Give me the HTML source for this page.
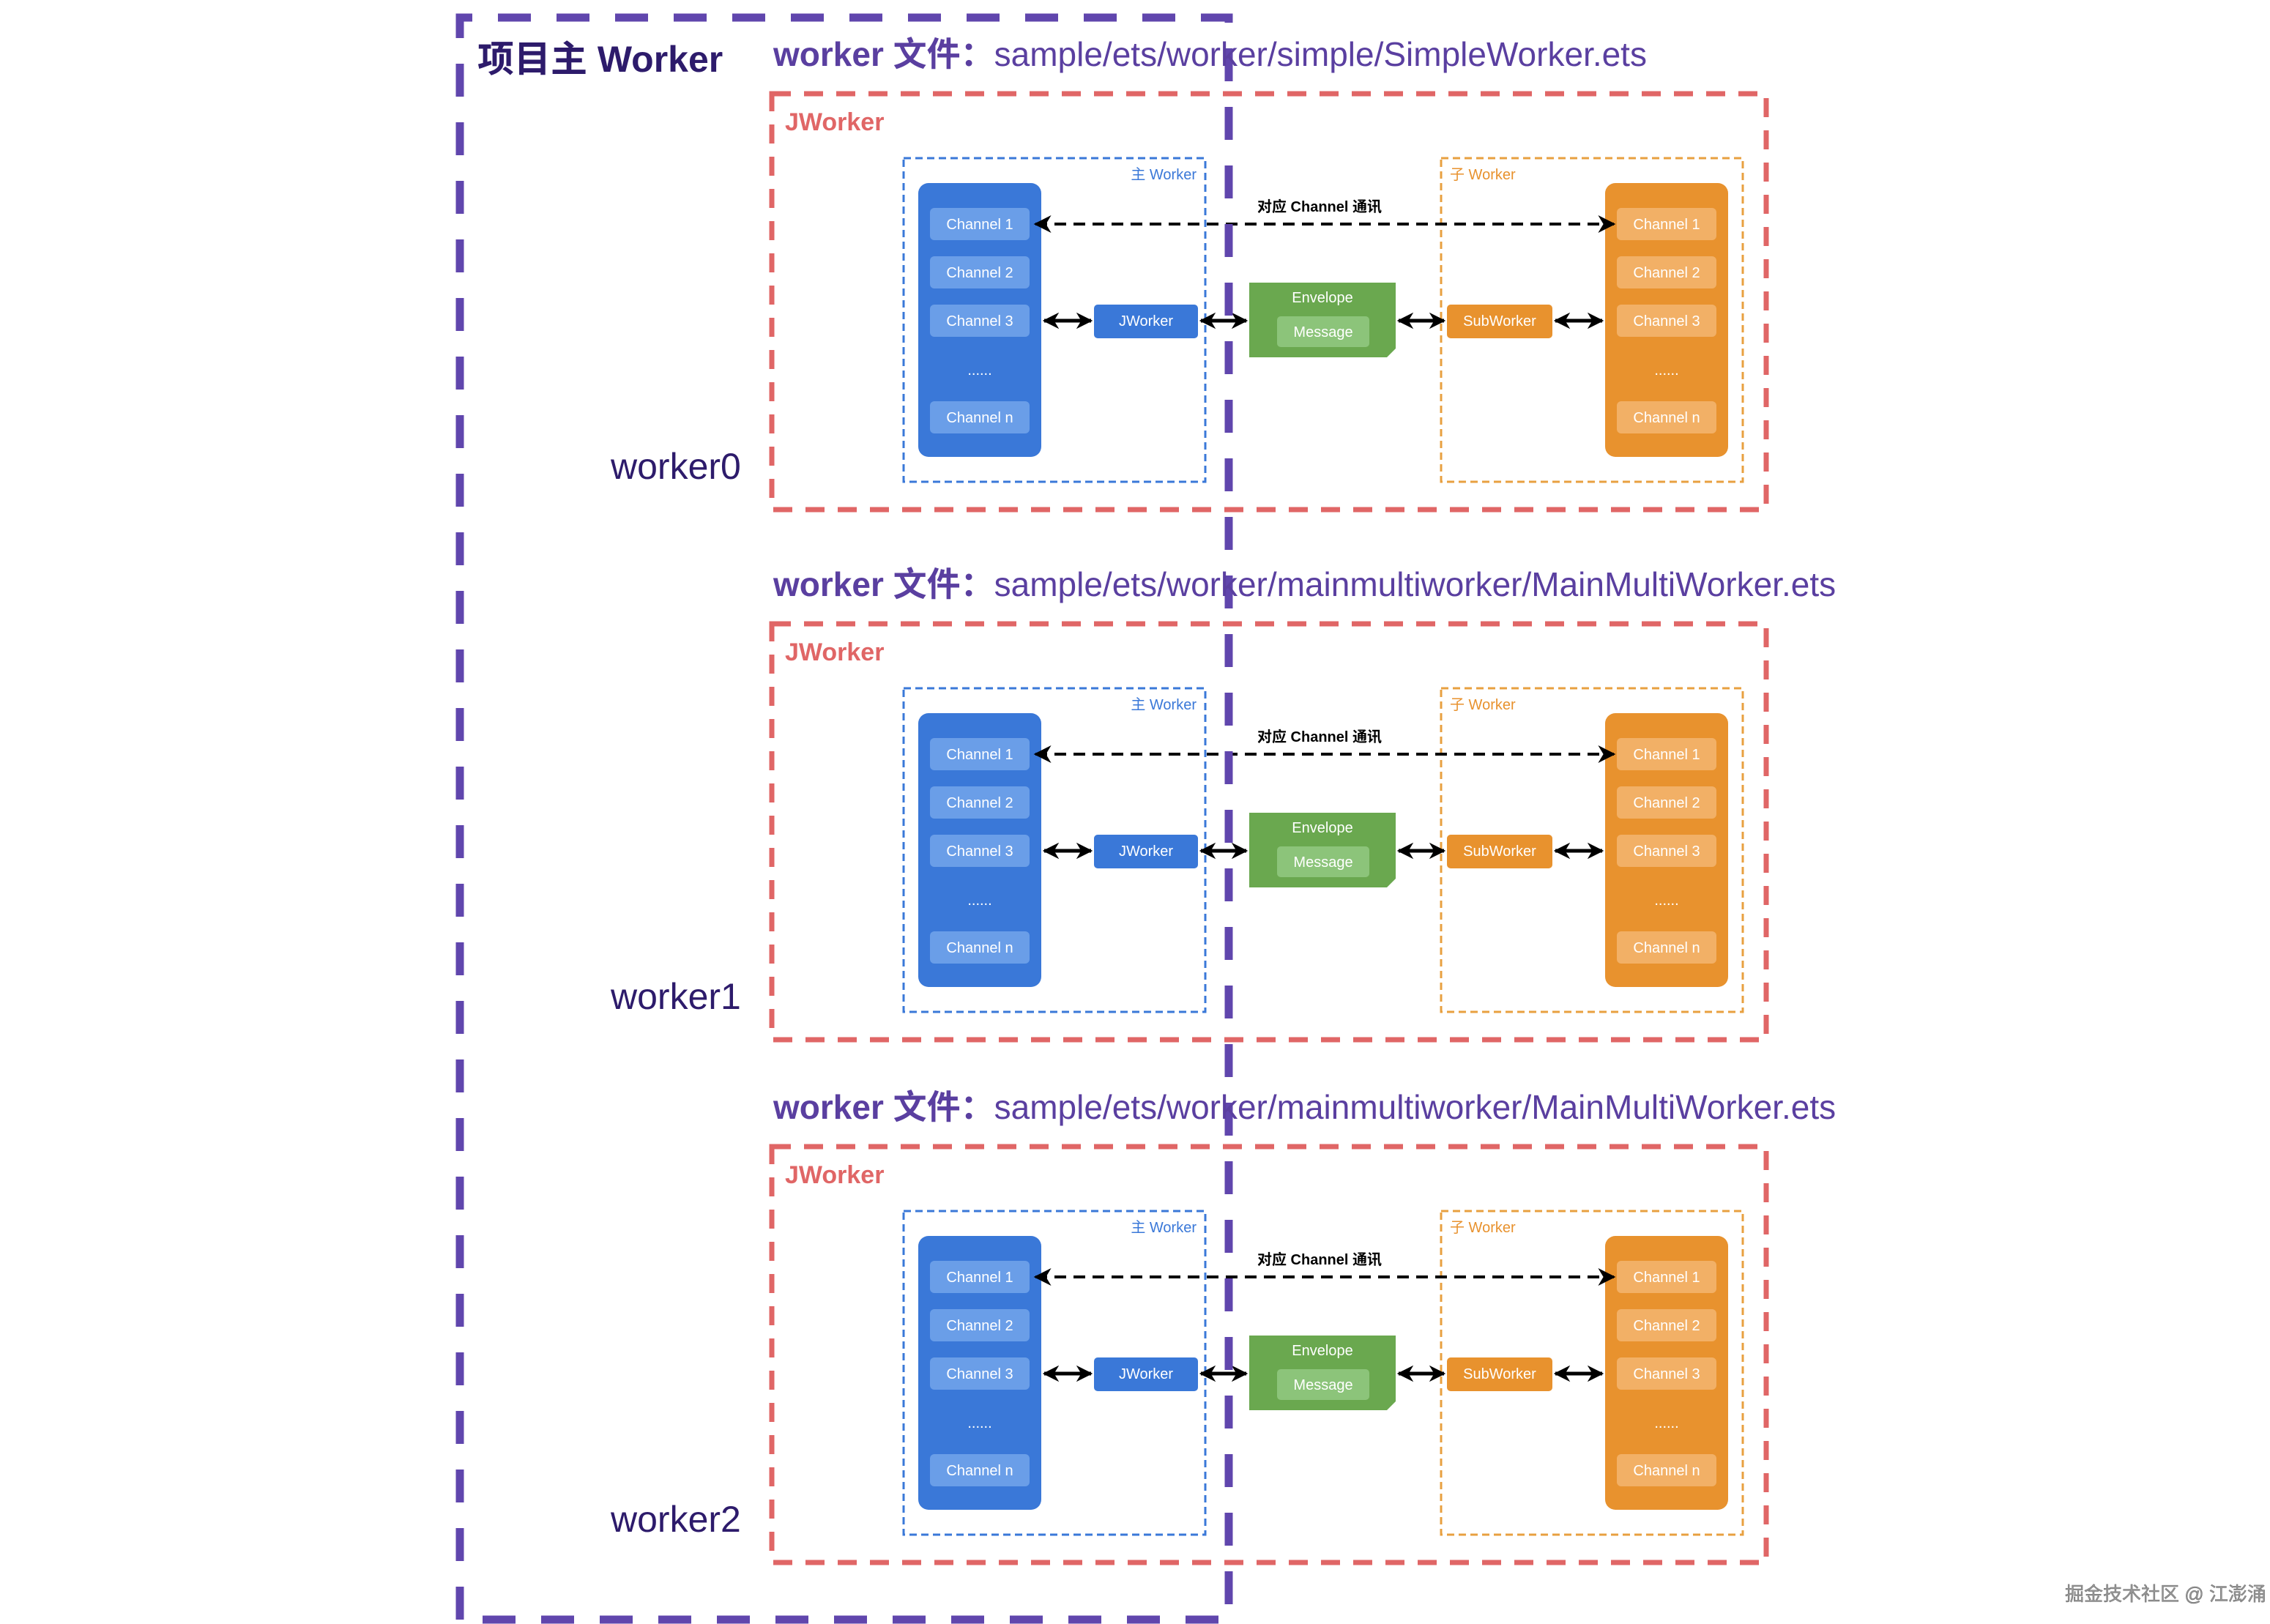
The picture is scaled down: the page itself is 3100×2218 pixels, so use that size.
<!DOCTYPE html>
<html><head><meta charset="utf-8"><style>
html,body{margin:0;padding:0;background:#fff;}
svg{display:block;}
text{font-family:"Liberation Sans","Noto Sans CJK SC",sans-serif;}
</style></head><body>
<svg width="3100" height="2218" viewBox="0 0 3100 2218" xmlns="http://www.w3.org/2000/svg">
<defs>
<marker id="ah" viewBox="0 0 10 10" refX="9" refY="5" markerWidth="6" markerHeight="6" orient="auto-start-reverse"><path d="M0,0 L10,5 L0,10 L3,5 z" fill="#000"/></marker>
<marker id="ah2" viewBox="0 0 10 10" refX="9" refY="5" markerWidth="4.5" markerHeight="4.5" orient="auto-start-reverse"><path d="M0,0 L10,5 L0,10 L3,5 z" fill="#000"/></marker>
<g id="sec">
  <rect x="1054" y="128" width="1358" height="568" fill="none" stroke="#e06666" stroke-width="7" stroke-dasharray="26 18"/>
  <rect x="1234" y="216" width="412" height="442" fill="none" stroke="#3a78d8" stroke-width="3" stroke-dasharray="10 6"/>
  <rect x="1968" y="216" width="412" height="442" fill="none" stroke="#e8a040" stroke-width="3" stroke-dasharray="10 6"/>
  <rect x="1254" y="250" width="168" height="374" rx="14" fill="#3a78d8"/>
  <rect x="1270" y="284" width="136" height="44" rx="6" fill="#6a9ee8"/>
  <rect x="1270" y="350" width="136" height="44" rx="6" fill="#6a9ee8"/>
  <rect x="1270" y="416" width="136" height="44" rx="6" fill="#6a9ee8"/>
  <rect x="1270" y="548" width="136" height="44" rx="6" fill="#6a9ee8"/>
  <rect x="2192" y="250" width="168" height="374" rx="14" fill="#e8922e"/>
  <rect x="2208" y="284" width="136" height="44" rx="6" fill="#f2b066"/>
  <rect x="2208" y="350" width="136" height="44" rx="6" fill="#f2b066"/>
  <rect x="2208" y="416" width="136" height="44" rx="6" fill="#f2b066"/>
  <rect x="2208" y="548" width="136" height="44" rx="6" fill="#f2b066"/>
  <rect x="1494" y="416" width="142" height="46" rx="5" fill="#3a78d8"/>
  <rect x="1976" y="416" width="144" height="46" rx="5" fill="#e8922e"/>
  <rect x="1706" y="386" width="200" height="102" fill="#6aa84f"/>
  <path d="M1894,488 L1906,476 L1906,488 z" fill="#fff"/>
  <rect x="1744" y="432" width="126" height="42" rx="5" fill="#8cc47a"/>
  <line x1="1414" y1="306" x2="2204" y2="306" stroke="#000" stroke-width="4" stroke-dasharray="16 10" marker-start="url(#ah)" marker-end="url(#ah)"/>
  <line x1="1426" y1="438" x2="1490" y2="438" stroke="#000" stroke-width="5" marker-start="url(#ah2)" marker-end="url(#ah2)"/>
  <line x1="1640" y1="438" x2="1702" y2="438" stroke="#000" stroke-width="5" marker-start="url(#ah2)" marker-end="url(#ah2)"/>
  <line x1="1910" y1="438" x2="1972" y2="438" stroke="#000" stroke-width="5" marker-start="url(#ah2)" marker-end="url(#ah2)"/>
  <line x1="2124" y1="438" x2="2188" y2="438" stroke="#000" stroke-width="5" marker-start="url(#ah2)" marker-end="url(#ah2)"/>
</g>
</defs>
<use href="#sec"/>
<use href="#sec" transform="translate(0,724)"/>
<use href="#sec" transform="translate(0,1438)"/>

<path d="M628,2212 L628,24 L1678,24 L1678,2212 Z" fill="none" stroke="#6046ad" stroke-width="11" stroke-dasharray="45 35"/>

<text x="652" y="98" font-size="50" font-weight="bold" fill="#2d1b6b">项目主 Worker</text>

<text x="1056" y="90" font-size="46" fill="#5a3fa0"><tspan font-weight="bold">worker  文件：</tspan>sample/ets/worker/simple/SimpleWorker.ets</text>
<text x="1056" y="814" font-size="46" fill="#5a3fa0"><tspan font-weight="bold">worker  文件：</tspan>sample/ets/worker/mainmultiworker/MainMultiWorker.ets</text>
<text x="1056" y="1528" font-size="46" fill="#5a3fa0"><tspan font-weight="bold">worker  文件：</tspan>sample/ets/worker/mainmultiworker/MainMultiWorker.ets</text>

<text x="834" y="654" font-size="50" fill="#2d1b6b">worker0</text>
<text x="834" y="1378" font-size="50" fill="#2d1b6b">worker1</text>
<text x="834" y="2092" font-size="50" fill="#2d1b6b">worker2</text>

<g font-size="20" text-anchor="middle">
<text x="1072" y="178" font-size="34" font-weight="bold" fill="#e06666" text-anchor="start">JWorker</text>
<text x="1634" y="245" fill="#3a78d8" text-anchor="end">主 Worker</text>
<text x="1980" y="245" fill="#e8922e" text-anchor="start">子 Worker</text>
<text x="1802" y="289" font-weight="bold" fill="#000">对应 Channel 通讯</text>
<text x="1338" y="313" fill="#fff">Channel 1</text>
<text x="1338" y="379" fill="#fff">Channel 2</text>
<text x="1338" y="445" fill="#fff">Channel 3</text>
<text x="1338" y="512" fill="#fff">......</text>
<text x="1338" y="577" fill="#fff">Channel n</text>
<text x="2276" y="313" fill="#fff">Channel 1</text>
<text x="2276" y="379" fill="#fff">Channel 2</text>
<text x="2276" y="445" fill="#fff">Channel 3</text>
<text x="2276" y="512" fill="#fff">......</text>
<text x="2276" y="577" fill="#fff">Channel n</text>
<text x="1565" y="445" fill="#fff">JWorker</text>
<text x="2048" y="445" fill="#fff">SubWorker</text>
<text x="1806" y="413" fill="#fff">Envelope</text>
<text x="1807" y="460" fill="#fff">Message</text>
</g>
<g font-size="20" text-anchor="middle" transform="translate(0,724)">
<text x="1072" y="178" font-size="34" font-weight="bold" fill="#e06666" text-anchor="start">JWorker</text>
<text x="1634" y="245" fill="#3a78d8" text-anchor="end">主 Worker</text>
<text x="1980" y="245" fill="#e8922e" text-anchor="start">子 Worker</text>
<text x="1802" y="289" font-weight="bold" fill="#000">对应 Channel 通讯</text>
<text x="1338" y="313" fill="#fff">Channel 1</text>
<text x="1338" y="379" fill="#fff">Channel 2</text>
<text x="1338" y="445" fill="#fff">Channel 3</text>
<text x="1338" y="512" fill="#fff">......</text>
<text x="1338" y="577" fill="#fff">Channel n</text>
<text x="2276" y="313" fill="#fff">Channel 1</text>
<text x="2276" y="379" fill="#fff">Channel 2</text>
<text x="2276" y="445" fill="#fff">Channel 3</text>
<text x="2276" y="512" fill="#fff">......</text>
<text x="2276" y="577" fill="#fff">Channel n</text>
<text x="1565" y="445" fill="#fff">JWorker</text>
<text x="2048" y="445" fill="#fff">SubWorker</text>
<text x="1806" y="413" fill="#fff">Envelope</text>
<text x="1807" y="460" fill="#fff">Message</text>
</g>
<g font-size="20" text-anchor="middle" transform="translate(0,1438)">
<text x="1072" y="178" font-size="34" font-weight="bold" fill="#e06666" text-anchor="start">JWorker</text>
<text x="1634" y="245" fill="#3a78d8" text-anchor="end">主 Worker</text>
<text x="1980" y="245" fill="#e8922e" text-anchor="start">子 Worker</text>
<text x="1802" y="289" font-weight="bold" fill="#000">对应 Channel 通讯</text>
<text x="1338" y="313" fill="#fff">Channel 1</text>
<text x="1338" y="379" fill="#fff">Channel 2</text>
<text x="1338" y="445" fill="#fff">Channel 3</text>
<text x="1338" y="512" fill="#fff">......</text>
<text x="1338" y="577" fill="#fff">Channel n</text>
<text x="2276" y="313" fill="#fff">Channel 1</text>
<text x="2276" y="379" fill="#fff">Channel 2</text>
<text x="2276" y="445" fill="#fff">Channel 3</text>
<text x="2276" y="512" fill="#fff">......</text>
<text x="2276" y="577" fill="#fff">Channel n</text>
<text x="1565" y="445" fill="#fff">JWorker</text>
<text x="2048" y="445" fill="#fff">SubWorker</text>
<text x="1806" y="413" fill="#fff">Envelope</text>
<text x="1807" y="460" fill="#fff">Message</text>
</g>

<text x="2820" y="2186" font-size="26" fill="#999" stroke="#666" stroke-width="0.5">掘金技术社区 @ 江澎涌</text>
</svg>
</body></html>
